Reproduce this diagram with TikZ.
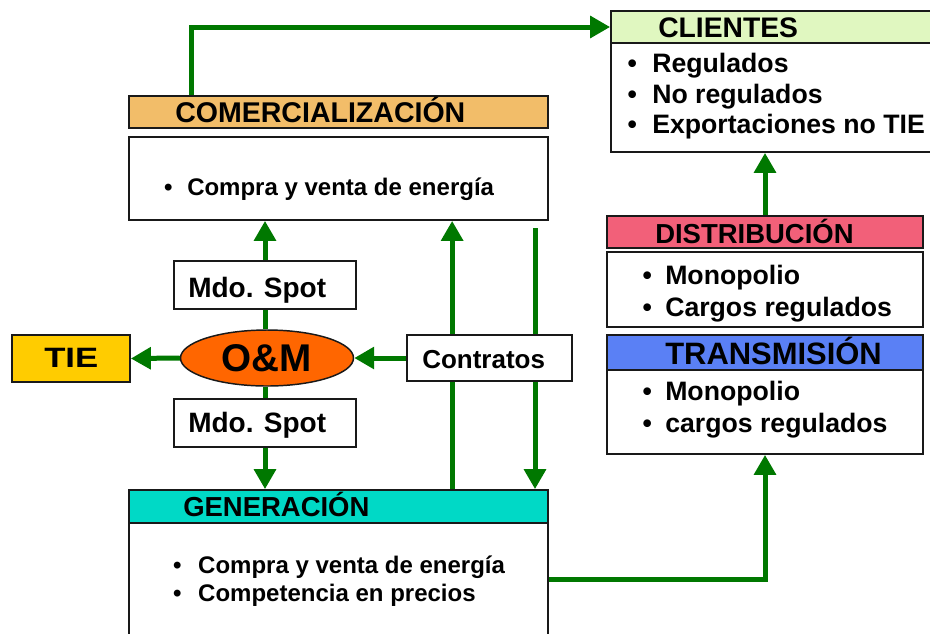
\documentclass[tikz,border=0pt]{standalone}
\usepackage{fontspec}
\usepackage{graphicx}
\setmainfont{Liberation Sans}
\usetikzlibrary{arrows.meta,calc,shapes.geometric}
\pgfdeclarelayer{bg}
\pgfsetlayers{bg,main}
\definecolor{cgreen}{HTML}{007800}
\definecolor{ccom}{HTML}{F2BD69}
\definecolor{ccli}{HTML}{E0F7C0}
\definecolor{cdis}{HTML}{F26079}
\definecolor{ctra}{HTML}{5A80F5}
\definecolor{cgen}{HTML}{00D9C6}
\definecolor{ctie}{HTML}{FFCC00}
\definecolor{com}{HTML}{FF6600}
\newcommand\fs[1]{\bfseries\fontsize{#1}{#1}\selectfont}
\newcommand\itm[2]{\llap{\textbullet\hspace{#1}}#2}
\tikzset{
  box/.style={draw=black!90, line width=1.3pt, rectangle, inner sep=0pt, fill=white},
  lbl/.style={anchor=base west, inner sep=0pt},
  link/.style={draw=cgreen, line width=3.75pt},
  arr/.style={link, -{Triangle[length=15pt,width=16pt]}},
}
\begin{document}
\begin{tikzpicture}[x=0.75pt,y=-0.75pt]
\useasboundingbox (0,0) rectangle (930,633);
% boxes
\node[box, fill=ccom, minimum width=314.25pt, minimum height=24pt] (comH) at (338.5,112) {};
\node[box, minimum width=314.25pt, minimum height=62.25pt] (comB) at (338.5,178.5) {};
\node[box, fill=ccli, minimum width=243pt, minimum height=24pt] (cliH) at (773,27) {};
\node[box, minimum width=243pt, minimum height=81.75pt] (cliB) at (773,97.5) {};
\node[box, fill=cdis, minimum width=237pt, minimum height=24pt] (disH) at (765,232) {};
\node[box, minimum width=237pt, minimum height=56.25pt] (disB) at (765,289.5) {};
\node[box, fill=ctra, minimum width=237pt, minimum height=26.25pt] (traH) at (765,352.5) {};
\node[box, minimum width=237pt, minimum height=63pt] (traB) at (765,412) {};
\node[box, fill=cgen, minimum width=314.25pt, minimum height=24.75pt] (genH) at (338.5,506.5) {};
\node[box, minimum width=314.25pt, minimum height=91.5pt] (genB) at (338.5,584) {};
\node[box, minimum width=136.5pt, minimum height=36pt] (spot1) at (265,285) {};
\node[box, minimum width=136.5pt, minimum height=36pt] (spot2) at (265,423) {};
\node[draw=black!90, line width=1.1pt, ellipse, fill=com, inner sep=0pt,
      minimum width=129.75pt, minimum height=42pt, font=\fs{29pt}] (om) at (267,358) {O\&M};
\node[box, fill=ctie, minimum width=88.5pt, minimum height=35.25pt] (tie) at (71,358.5) {};
\node[box, minimum width=123.75pt, minimum height=34.5pt] (con) at (489.5,358) {};
% texts
\node[lbl, font=\fs{21.4pt}] (tcomH) at (175,122) {COMERCIALIZACIÓN};
\node[lbl, font=\fs{18pt}] (tcom1) at (187,195) {\itm{11.1pt}{Compra y venta de energía}};
\node[lbl, font=\fs{21.2pt}] (tcliH) at (658,37) {CLIENTES};
\node[lbl, font=\fs{20pt}] (tcli1) at (652,72) {\itm{11.5pt}{Regulados}};
\node[lbl, font=\fs{20pt}] (tcli2) at (652,103.5) {\itm{11.5pt}{No regulados}};
\node[lbl, font=\fs{20pt}] (tcli3) at (652,133.5) {\itm{11.5pt}{Exportaciones no TIE}};
\node[lbl, font=\fs{20.6pt}] (tdisH) at (655,243) {DISTRIBUCIÓN};
\node[lbl, font=\fs{20pt}] (tdis1) at (665,284) {\itm{10pt}{Monopolio}};
\node[lbl, font=\fs{20pt}] (tdis2) at (665,316) {\itm{10pt}{Cargos regulados}};
\node[lbl, font=\fs{23.2pt}] (ttraH) at (665,364) {TRANSMISIÓN};
\node[lbl, font=\fs{20pt}] (ttra1) at (665,400) {\itm{10pt}{Monopolio}};
\node[lbl, font=\fs{20pt}] (ttra2) at (665,432) {\itm{10pt}{cargos regulados}};
\node[lbl, font=\fs{20.6pt}] (tgenH) at (183,516) {GENERACIÓN};
\node[lbl, font=\fs{18pt}] (tgen1) at (198,573) {\itm{12.6pt}{Compra y venta de energía}};
\node[lbl, font=\fs{18pt}] (tgen2) at (198,601) {\itm{12.6pt}{Competencia en precios}};
\node[lbl, font=\fs{21pt}] (tspot1) at (188,297) {Mdo. Spot};
\node[lbl, font=\fs{21pt}] (tspot2) at (188,432) {Mdo. Spot};
\node[lbl, font=\fs{21pt}] (ttie) at (44,367) {\scalebox{1.24}[1]{TIE}};
\node[lbl, font=\fs{19.5pt}] (tcon) at (422,368) {Contratos};
% connectors
\coordinate (cDown) at (535,228);
\begin{pgfonlayer}{bg}
\draw[arr] ($(genH.north west)+(324,0)$) -- ($(comB.south west)+(324,0)$);
\draw[arr] (cDown) -- (cDown |- genH.north);
\end{pgfonlayer}
\draw[arr] ($(comH.north west)+(63,0)$) |- (cliH.west);
\draw[arr] (disH.north) -- (disH.north |- cliB.south);
\draw[arr] ($(genH.south east)+(0,56)$) -| (traB.south);
\draw[arr] (spot1.north) -- (spot1.north |- comB.south);
\draw[link] (om.north -| spot1.north) -- (spot1.south);
\draw[link] (om.south -| spot2.north) -- (spot2.north);
\draw[arr] (spot2.south) -- (spot2.south |- genH.north);
\draw[arr] (om.west) -- (tie.east);
\draw[arr] (con.west) -- (om.east);
\end{tikzpicture}
\end{document}
